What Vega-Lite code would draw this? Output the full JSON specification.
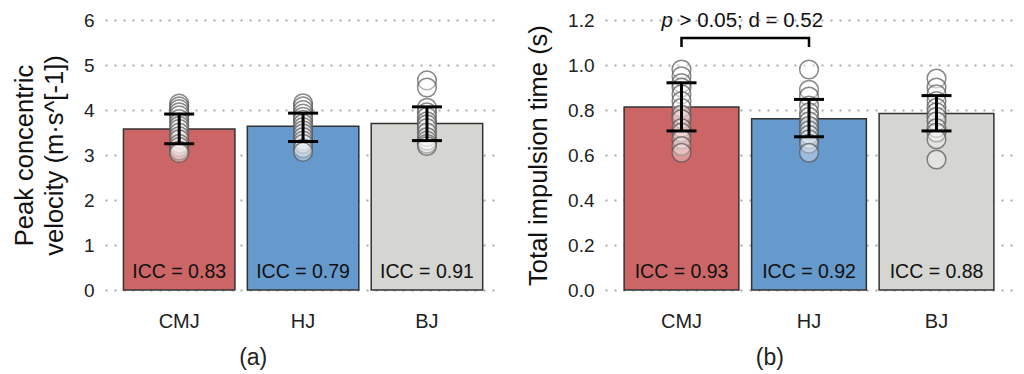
{
  "$schema": "https://vega.github.io/schema/vega-lite/v6.json",
  "padding": {"left": 12, "top": 11, "right": 4, "bottom": 2},
  "background": "white",
  "spacing": 32,
  "datasets": {
    "barsA": [
      {"cat": "CMJ", "mean": 3.58, "lo": 3.25, "hi": 3.91, "icc": "ICC = 0.83"},
      {"cat": "HJ", "mean": 3.64, "lo": 3.30, "hi": 3.93, "icc": "ICC = 0.79"},
      {"cat": "BJ", "mean": 3.70, "lo": 3.32, "hi": 4.07, "icc": "ICC = 0.91"}
    ],
    "ptsA": [
      {"cat": "CMJ", "v": 4.14}, {"cat": "CMJ", "v": 4.08}, {"cat": "CMJ", "v": 4.02}, {"cat": "CMJ", "v": 3.95},
      {"cat": "CMJ", "v": 3.88}, {"cat": "CMJ", "v": 3.80}, {"cat": "CMJ", "v": 3.72}, {"cat": "CMJ", "v": 3.65},
      {"cat": "CMJ", "v": 3.58}, {"cat": "CMJ", "v": 3.50}, {"cat": "CMJ", "v": 3.42}, {"cat": "CMJ", "v": 3.35},
      {"cat": "CMJ", "v": 3.25}, {"cat": "CMJ", "v": 3.18}, {"cat": "CMJ", "v": 3.10}, {"cat": "CMJ", "v": 3.04},
      {"cat": "HJ", "v": 4.15}, {"cat": "HJ", "v": 4.08}, {"cat": "HJ", "v": 4.00}, {"cat": "HJ", "v": 3.92},
      {"cat": "HJ", "v": 3.85}, {"cat": "HJ", "v": 3.78}, {"cat": "HJ", "v": 3.70}, {"cat": "HJ", "v": 3.62},
      {"cat": "HJ", "v": 3.55}, {"cat": "HJ", "v": 3.48}, {"cat": "HJ", "v": 3.40}, {"cat": "HJ", "v": 3.32},
      {"cat": "HJ", "v": 3.25}, {"cat": "HJ", "v": 3.15}, {"cat": "HJ", "v": 3.07},
      {"cat": "BJ", "v": 4.66}, {"cat": "BJ", "v": 4.50}, {"cat": "BJ", "v": 4.05}, {"cat": "BJ", "v": 3.95},
      {"cat": "BJ", "v": 3.85}, {"cat": "BJ", "v": 3.75}, {"cat": "BJ", "v": 3.68}, {"cat": "BJ", "v": 3.60},
      {"cat": "BJ", "v": 3.50}, {"cat": "BJ", "v": 3.40}, {"cat": "BJ", "v": 3.32}, {"cat": "BJ", "v": 3.25},
      {"cat": "BJ", "v": 3.20}
    ],
    "barsB": [
      {"cat": "CMJ", "mean": 0.813, "lo": 0.707, "hi": 0.921, "icc": "ICC = 0.93"},
      {"cat": "HJ", "mean": 0.761, "lo": 0.681, "hi": 0.847, "icc": "ICC = 0.92"},
      {"cat": "BJ", "mean": 0.784, "lo": 0.707, "hi": 0.864, "icc": "ICC = 0.88"}
    ],
    "ptsB": [
      {"cat": "CMJ", "v": 0.98}, {"cat": "CMJ", "v": 0.95}, {"cat": "CMJ", "v": 0.92}, {"cat": "CMJ", "v": 0.90},
      {"cat": "CMJ", "v": 0.87}, {"cat": "CMJ", "v": 0.84}, {"cat": "CMJ", "v": 0.81}, {"cat": "CMJ", "v": 0.78},
      {"cat": "CMJ", "v": 0.76}, {"cat": "CMJ", "v": 0.72}, {"cat": "CMJ", "v": 0.70}, {"cat": "CMJ", "v": 0.67},
      {"cat": "CMJ", "v": 0.64}, {"cat": "CMJ", "v": 0.61},
      {"cat": "HJ", "v": 0.98}, {"cat": "HJ", "v": 0.89}, {"cat": "HJ", "v": 0.86}, {"cat": "HJ", "v": 0.82},
      {"cat": "HJ", "v": 0.79}, {"cat": "HJ", "v": 0.77}, {"cat": "HJ", "v": 0.75}, {"cat": "HJ", "v": 0.73},
      {"cat": "HJ", "v": 0.71}, {"cat": "HJ", "v": 0.69}, {"cat": "HJ", "v": 0.67}, {"cat": "HJ", "v": 0.65},
      {"cat": "HJ", "v": 0.61},
      {"cat": "BJ", "v": 0.94}, {"cat": "BJ", "v": 0.90}, {"cat": "BJ", "v": 0.87}, {"cat": "BJ", "v": 0.84},
      {"cat": "BJ", "v": 0.81}, {"cat": "BJ", "v": 0.79}, {"cat": "BJ", "v": 0.77}, {"cat": "BJ", "v": 0.75},
      {"cat": "BJ", "v": 0.72}, {"cat": "BJ", "v": 0.70}, {"cat": "BJ", "v": 0.67}, {"cat": "BJ", "v": 0.58}
    ],
    "bracket": [
      {"cat": "CMJ", "v": 1.08, "i": 1},
      {"cat": "CMJ", "v": 1.12, "i": 2},
      {"cat": "HJ", "v": 1.12, "i": 3},
      {"cat": "HJ", "v": 1.08, "i": 4}
    ],
    "sig": [
      {"cat": "CMJ", "part": "p", "rest": "> 0.05; d = 0.52"}
    ]
  },
  "hconcat": [
    {
      "width": 389,
      "height": 270,
      "title": {"text": "(a)", "orient": "bottom", "anchor": "middle", "frame": "bounds", "fontSize": 23, "fontWeight": "normal", "offset": 16, "color": "#222"},
      "layer": [
        {
          "data": {"name": "barsA"},
          "mark": {"type": "bar", "stroke": "#333333", "strokeWidth": 1.5},
          "encoding": {
            "x": {"field": "cat", "type": "nominal", "sort": ["CMJ", "HJ", "BJ"],
                  "scale": {"paddingInner": 0.1, "paddingOuter": 0.12, "align": 0.62},
                  "axis": {"title": null, "labelAngle": 0, "domain": false, "ticks": false, "labelFontSize": 20, "labelPadding": 21, "labelColor": "#222"}},
            "y": {"field": "mean", "type": "quantitative",
                  "scale": {"domain": [0, 6], "nice": false},
                  "axis": {"title": ["Peak concentric", "velocity (m·s^[-1])"], "values": [0, 1, 2, 3, 4, 5, 6], "format": "d", "titlePadding": 16, "titleLineHeight": 30}},
            "fill": {"field": "cat", "type": "nominal", "scale": {"domain": ["CMJ", "HJ", "BJ"], "range": ["#cc6566", "#6699cc", "#d5d5d2"]}, "legend": null}
          }
        },
        {
          "data": {"name": "ptsA"},
          "mark": {"type": "point", "shape": "circle", "filled": false, "fill": "white", "fillOpacity": 0.35, "stroke": "#555555", "strokeOpacity": 0.7, "strokeWidth": 1.5, "size": 350},
          "encoding": {
            "x": {"field": "cat", "type": "nominal", "sort": ["CMJ", "HJ", "BJ"]},
            "y": {"field": "v", "type": "quantitative"}
          }
        },
        {
          "data": {"name": "barsA"},
          "mark": {"type": "rule", "color": "black", "strokeWidth": 3},
          "encoding": {
            "x": {"field": "cat", "type": "nominal", "sort": ["CMJ", "HJ", "BJ"]},
            "y": {"field": "lo", "type": "quantitative"},
            "y2": {"field": "hi"}
          }
        },
        {
          "data": {"name": "barsA"},
          "mark": {"type": "tick", "orient": "horizontal", "color": "black", "thickness": 3, "size": 30, "opacity": 1},
          "encoding": {
            "x": {"field": "cat", "type": "nominal", "sort": ["CMJ", "HJ", "BJ"]},
            "y": {"field": "lo", "type": "quantitative"}
          }
        },
        {
          "data": {"name": "barsA"},
          "mark": {"type": "tick", "orient": "horizontal", "color": "black", "thickness": 3, "size": 30, "opacity": 1},
          "encoding": {
            "x": {"field": "cat", "type": "nominal", "sort": ["CMJ", "HJ", "BJ"]},
            "y": {"field": "hi", "type": "quantitative"}
          }
        },
        {
          "data": {"name": "barsA"},
          "mark": {"type": "text", "fontSize": 19.5, "baseline": "bottom", "dy": -8, "color": "#111"},
          "encoding": {
            "x": {"field": "cat", "type": "nominal", "sort": ["CMJ", "HJ", "BJ"]},
            "y": {"datum": 0},
            "text": {"field": "icc"}
          }
        }
      ]
    },
    {
      "width": 408,
      "height": 270,
      "title": {"text": "(b)", "orient": "bottom", "anchor": "middle", "frame": "bounds", "fontSize": 23, "fontWeight": "normal", "offset": 16, "color": "#222"},
      "layer": [
        {
          "data": {"name": "barsB"},
          "mark": {"type": "bar", "stroke": "#333333", "strokeWidth": 1.5},
          "encoding": {
            "x": {"field": "cat", "type": "nominal", "sort": ["CMJ", "HJ", "BJ"],
                  "scale": {"paddingInner": 0.1, "paddingOuter": 0.15, "align": 0.5},
                  "axis": {"title": null, "labelAngle": 0, "domain": false, "ticks": false, "labelFontSize": 20, "labelPadding": 21, "labelColor": "#222"}},
            "y": {"field": "mean", "type": "quantitative",
                  "scale": {"domain": [0, 1.2], "nice": false},
                  "axis": {"title": "Total impulsion time (s)", "values": [0, 0.2, 0.4, 0.6, 0.8, 1.0, 1.2], "format": ".1f", "titlePadding": 16}},
            "fill": {"field": "cat", "type": "nominal", "scale": {"domain": ["CMJ", "HJ", "BJ"], "range": ["#cc6566", "#6699cc", "#d5d5d2"]}, "legend": null}
          }
        },
        {
          "data": {"name": "ptsB"},
          "mark": {"type": "point", "shape": "circle", "filled": false, "fill": "white", "fillOpacity": 0.35, "stroke": "#555555", "strokeOpacity": 0.7, "strokeWidth": 1.5, "size": 350},
          "encoding": {
            "x": {"field": "cat", "type": "nominal", "sort": ["CMJ", "HJ", "BJ"]},
            "y": {"field": "v", "type": "quantitative"}
          }
        },
        {
          "data": {"name": "barsB"},
          "mark": {"type": "rule", "color": "black", "strokeWidth": 3},
          "encoding": {
            "x": {"field": "cat", "type": "nominal", "sort": ["CMJ", "HJ", "BJ"]},
            "y": {"field": "lo", "type": "quantitative"},
            "y2": {"field": "hi"}
          }
        },
        {
          "data": {"name": "barsB"},
          "mark": {"type": "tick", "orient": "horizontal", "color": "black", "thickness": 3, "size": 30, "opacity": 1},
          "encoding": {
            "x": {"field": "cat", "type": "nominal", "sort": ["CMJ", "HJ", "BJ"]},
            "y": {"field": "lo", "type": "quantitative"}
          }
        },
        {
          "data": {"name": "barsB"},
          "mark": {"type": "tick", "orient": "horizontal", "color": "black", "thickness": 3, "size": 30, "opacity": 1},
          "encoding": {
            "x": {"field": "cat", "type": "nominal", "sort": ["CMJ", "HJ", "BJ"]},
            "y": {"field": "hi", "type": "quantitative"}
          }
        },
        {
          "data": {"name": "barsB"},
          "mark": {"type": "text", "fontSize": 19.5, "baseline": "bottom", "dy": -8, "color": "#111"},
          "encoding": {
            "x": {"field": "cat", "type": "nominal", "sort": ["CMJ", "HJ", "BJ"]},
            "y": {"datum": 0},
            "text": {"field": "icc"}
          }
        },
        {
          "data": {"name": "bracket"},
          "mark": {"type": "line", "color": "black", "strokeWidth": 2.5, "strokeCap": "butt", "strokeJoin": "miter"},
          "encoding": {
            "x": {"field": "cat", "type": "nominal", "sort": ["CMJ", "HJ", "BJ"]},
            "y": {"field": "v", "type": "quantitative"},
            "order": {"field": "i", "type": "quantitative"}
          }
        },
        {
          "data": {"name": "sig"},
          "mark": {"type": "text", "fontSize": 20.5, "fontStyle": "italic", "align": "left", "baseline": "alphabetic", "dx": -20, "dy": 7, "color": "#111"},
          "encoding": {
            "x": {"field": "cat", "type": "nominal", "sort": ["CMJ", "HJ", "BJ"]},
            "y": {"datum": 1.2},
            "text": {"field": "part"}
          }
        },
        {
          "data": {"name": "sig"},
          "mark": {"type": "text", "fontSize": 20.5, "align": "left", "baseline": "alphabetic", "dx": -2, "dy": 7, "color": "#111"},
          "encoding": {
            "x": {"field": "cat", "type": "nominal", "sort": ["CMJ", "HJ", "BJ"]},
            "y": {"datum": 1.2},
            "text": {"field": "rest"}
          }
        }
      ]
    }
  ],
  "resolve": {"scale": {"y": "independent", "x": "independent", "fill": "independent"}},
  "config": {
    "font": "Liberation Sans",
    "view": {"stroke": null},
    "axis": {
      "labelFont": "Liberation Sans",
      "titleFont": "Liberation Sans",
      "labelFontSize": 19,
      "labelColor": "#222",
      "titleFontSize": 25.5,
      "titleFontWeight": "normal",
      "titleColor": "#111"
    },
    "axisY": {
      "grid": true,
      "gridColor": "#aaaaaa",
      "gridDash": [2, 7],
      "gridWidth": 2,
      "domain": false,
      "ticks": false,
      "labelPadding": 11
    },
    "axisX": {"grid": false}
  }
}
